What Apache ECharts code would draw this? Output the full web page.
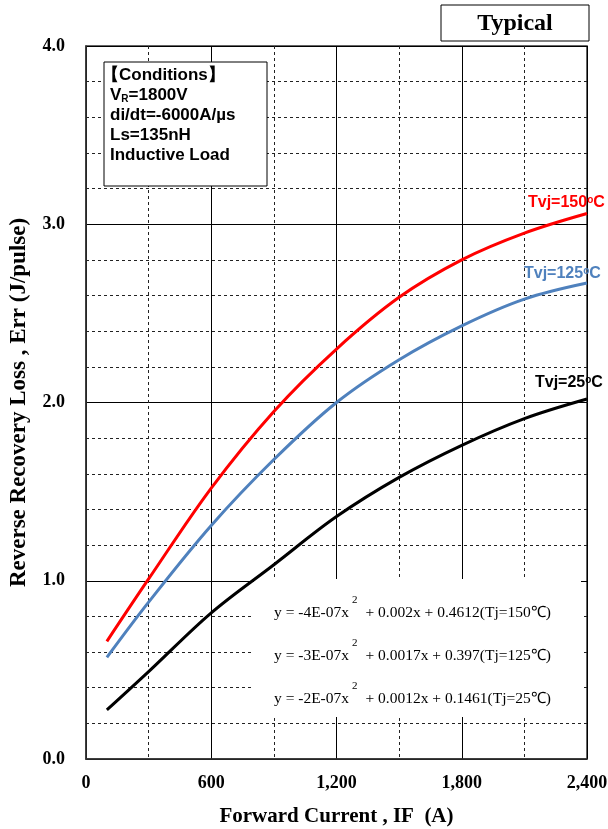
<!DOCTYPE html>
<html>
<head>
<meta charset="utf-8">
<script src="https://cdn.jsdelivr.net/npm/echarts@6/dist/echarts.min.js"></script>
<style>
html, body { margin: 0; padding: 0; background: #fff; }
#chart { width: 608px; height: 829px; }
</style>
</head>
<body>
<div id="chart"></div>
<script>
// forward current IF (A)
var currents = [100, 300, 600, 900, 1200, 1500, 1800, 2100, 2400];
// Err (J/pulse)
var err150 = [0.66, 1.01, 1.52, 1.95, 2.30, 2.59, 2.80, 2.95, 3.06];
var err125 = [0.57, 0.88, 1.31, 1.68, 2.00, 2.24, 2.43, 2.58, 2.67];
var err25 = [0.275, 0.49, 0.82, 1.09, 1.36, 1.58, 1.76, 1.91, 2.02];

var xTickLabels = ['0', '600', '1,200', '1,800', '2,400'];
var yTickLabels = ['0.0', '1.0', '2.0', '3.0', '4.0'];

var serif = '"Times New Roman", "Liberation Serif", serif';
var sans = 'Arial, "Liberation Sans", sans-serif';

function pairs(ys) {
    return currents.map(function (x, i) { return [x, ys[i]]; });
}

function curveLabel(x, y, temp, color) {
    return {
        type: 'text', z: 11, x: x, y: y,
        style: {
            text: '{t|Tvj=' + temp + '}{o|o}{t|C}', textVerticalAlign: 'middle',
            rich: {
                t: { fontFamily: sans, fontWeight: 'bold', fontSize: 16, fill: color },
                o: { fontFamily: sans, fontWeight: 'bold', fontSize: 10, padding: [0, 0, 6, 0], fill: color }
            }
        }
    };
}

var dashed = { color: '#222', width: 1, type: [3, 3] };
var condFont = { fontFamily: sans, fontWeight: 'bold', fontSize: 17, lineHeight: 20, fill: '#000' };

var chart = echarts.init(document.getElementById('chart'));
chart.setOption({
    animation: false,
    grid: {
        left: 86, right: 21, top: 46, bottom: 70,
        outerBoundsMode: 'none',
        show: true, borderColor: '#333', borderWidth: 1.5
    },
    xAxis: {
        type: 'value',
        min: 0, max: 2400, interval: 600,
        name: 'Forward Current , IF  (A)',
        nameLocation: 'middle',
        nameGap: 47,
        nameTextStyle: { fontFamily: serif, fontWeight: 'bold', fontSize: 21, color: '#000' },
        axisLine: { lineStyle: { color: '#333', width: 1.5 } },
        axisTick: { show: false },
        axisLabel: {
            margin: 15,
            fontFamily: serif, fontWeight: 'bold', fontSize: 18, color: '#000',
            formatter: function (v) { return xTickLabels[Math.round(v / 600)]; }
        },
        splitLine: { show: true, lineStyle: { color: '#000', width: 1 } },
        minorTick: { show: false, splitNumber: 2 },
        minorSplitLine: { show: true, lineStyle: dashed }
    },
    yAxis: {
        type: 'value',
        min: 0, max: 4, interval: 1,
        name: 'Reverse Recovery Loss , Err (J/pulse)',
        nameLocation: 'middle',
        nameRotate: 90,
        nameGap: 55,
        nameTextStyle: { fontFamily: serif, fontWeight: 'bold', fontSize: 23, color: '#000' },
        axisLine: { show: true, lineStyle: { color: '#333', width: 1.5 } },
        axisTick: { show: false },
        axisLabel: {
            margin: 21,
            fontFamily: serif, fontWeight: 'bold', fontSize: 18, color: '#000',
            formatter: function (v) { return yTickLabels[Math.round(v)]; }
        },
        splitLine: { show: true, lineStyle: { color: '#000', width: 1 } },
        minorTick: { show: false, splitNumber: 5 },
        minorSplitLine: { show: true, lineStyle: dashed }
    },
    series: [
        {
            name: 'Tvj=150', type: 'line', smooth: 0.35, showSymbol: false, z: 5,
            lineStyle: { color: '#ff0000', width: 3 },
            data: pairs(err150)
        },
        {
            name: 'Tvj=125', type: 'line', smooth: 0.35, showSymbol: false, z: 5,
            lineStyle: { color: '#4f81bd', width: 3 },
            data: pairs(err125)
        },
        {
            name: 'Tvj=25', type: 'line', smooth: 0.35, showSymbol: false, z: 5,
            lineStyle: { color: '#000', width: 3 },
            data: pairs(err25)
        }
    ],
    graphic: [
        // Typical box
        {
            type: 'rect', z: 10,
            shape: { x: 441, y: 5, width: 148, height: 36 },
            style: { fill: '#fff', stroke: '#000', lineWidth: 1 }
        },
        {
            type: 'text', z: 11, x: 515, y: 24,
            style: {
                text: 'Typical', fill: '#000',
                font: 'bold 24px ' + serif,
                textAlign: 'center', textVerticalAlign: 'middle'
            }
        },
        // conditions box
        {
            type: 'rect', z: 10,
            shape: { x: 104, y: 62, width: 163, height: 124 },
            style: { fill: '#fff', stroke: '#000', lineWidth: 1 }
        },
        {
            type: 'text', z: 11, x: 102, y: 65,
            style: { text: '{t|【Conditions】}', rich: { t: condFont } }
        },
        {
            type: 'text', z: 11, x: 110, y: 85,
            style: {
                text: '{t|V}{sub|R}{t|=1800V}\n{t|di/dt=-6000A/µs}\n{t|Ls=135nH}\n{t|Inductive Load}',
                fill: '#000',
                rich: {
                    t: condFont,
                    sub: { fontFamily: sans, fontWeight: 'bold', fontSize: 10, lineHeight: 20, padding: [8, 0, 0, 0], fill: '#000' }
                }
            }
        },
        // fit equations panel
        {
            type: 'rect', z: 3,
            shape: { x: 254, y: 579, width: 327, height: 138 },
            style: { fill: '#fff' }
        },
        {
            type: 'text', z: 11, x: 274, y: 591,
            style: {
                text: [
                    '{n|y = -4E-07x}{s|2}{n| + 0.002x + 0.4612(Tj=150℃)}',
                    '{n|y = -3E-07x}{s|2}{n| + 0.0017x + 0.397(Tj=125℃)}',
                    '{n|y = -2E-07x}{s|2}{n| + 0.0012x + 0.1461(Tj=25℃)}'
                ].join('\n'),
                fill: '#000',
                rich: {
                    n: { fontFamily: serif, fontSize: 15.5, lineHeight: 43, fill: '#000' },
                    s: { fontFamily: serif, fontSize: 11, lineHeight: 20, padding: [0, 4, 24, 3], fill: '#000' }
                }
            }
        },
        // curve labels
        curveLabel(528, 203, '150', '#ff0000'),
        curveLabel(524, 274, '125', '#4f81bd'),
        curveLabel(535, 383, '25', '#000')
    ]
});
</script>
</body>
</html>
